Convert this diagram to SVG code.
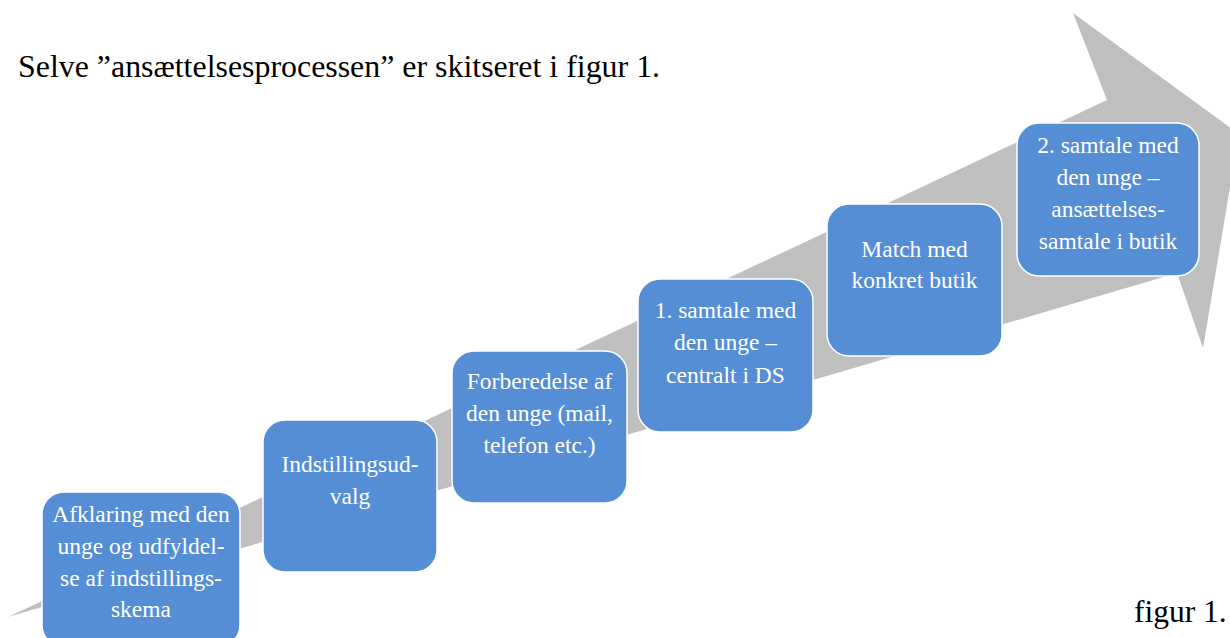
<svg xmlns="http://www.w3.org/2000/svg" width="1230" height="638" viewBox="0 0 1230 638">
<style>
.box{fill:#558ED5;stroke:#FFFFFF;stroke-width:1.5}
.bt{font-family:'Liberation Serif','DejaVu Serif','Noto Serif',serif;font-size:23.5px;fill:#FFFFFF;text-anchor:middle}
.pt{font-family:'Liberation Serif','DejaVu Serif','Noto Serif',serif;font-size:31.5px;fill:#000000}
</style>
<rect width="1230" height="638" fill="#FFFFFF"/>
<g id="connectors">
<polygon points="8,617 1107,100 1073,13 1239,134 1203,348 1177,273" fill="#BFBFBF"/>
</g>
<text class="pt" x="18" y="77" style="font-size:31.9px">Selve ”ansættelsesprocessen” er skitseret i figur 1.</text>
<g id="n1">
<rect class="box" x="42" y="492" width="198" height="155" rx="22"/>
<text class="bt" x="141" y="522">Afklaring med den</text>
<text class="bt" x="141" y="554">unge og udfyldel-</text>
<text class="bt" x="141" y="586">se af indstillings-</text>
<text class="bt" x="141" y="617">skema</text>
</g>
<g id="n2">
<rect class="box" x="263" y="420" width="174" height="152" rx="22"/>
<text class="bt" x="350" y="472">Indstillingsud-</text>
<text class="bt" x="350" y="504">valg</text>
</g>
<g id="n3">
<rect class="box" x="452" y="351" width="175" height="152" rx="22"/>
<text class="bt" x="539.5" y="389">Forberedelse af</text>
<text class="bt" x="539.5" y="421">den unge (mail,</text>
<text class="bt" x="539.5" y="453">telefon etc.)</text>
</g>
<g id="n4">
<rect class="box" x="638" y="279" width="175" height="153" rx="22"/>
<text class="bt" x="725.5" y="318">1. samtale med</text>
<text class="bt" x="725.5" y="350">den unge –</text>
<text class="bt" x="725.5" y="383">centralt i DS</text>
</g>
<g id="n5">
<rect class="box" x="827" y="204" width="175" height="152" rx="22"/>
<text class="bt" x="914.5" y="257">Match med</text>
<text class="bt" x="914.5" y="288">konkret butik</text>
</g>
<g id="n6">
<rect class="box" x="1017" y="123" width="182" height="153" rx="22"/>
<text class="bt" x="1108" y="153">2. samtale med</text>
<text class="bt" x="1108" y="185">den unge –</text>
<text class="bt" x="1108" y="217">ansættelses-</text>
<text class="bt" x="1108" y="249">samtale i butik</text>
</g>
<text class="pt" x="1134" y="622">figur 1.</text>
</svg>
